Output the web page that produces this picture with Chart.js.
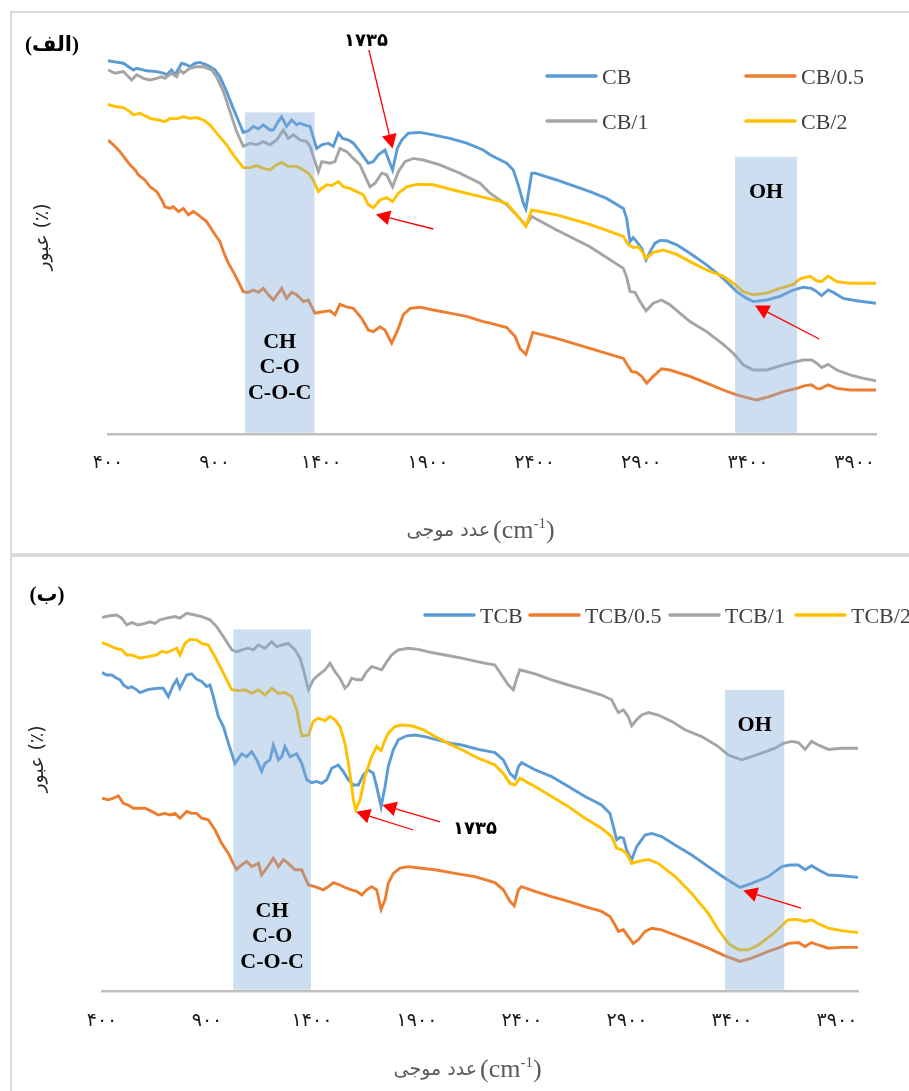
<!DOCTYPE html>
<html><head><meta charset="utf-8">
<script src="https://cdn.jsdelivr.net/npm/chart.js@4.4.1/dist/chart.umd.min.js"></script>
<style>
html,body{margin:0;padding:0;background:#fff;width:909px;height:1091px;overflow:hidden;position:relative}
.fr{position:absolute;background:#d9d9d9}
.wrap{position:absolute;left:0}
canvas{display:block}
</style></head><body>
<div class="fr" style="left:10px;top:11px;width:2px;height:1080px"></div>
<div class="fr" style="left:10px;top:11px;width:899px;height:2px"></div>
<div class="fr" style="left:10px;top:553px;width:899px;height:4px"></div>
<div class="wrap" style="top:0;width:909px;height:552px"><canvas id="c1" width="909" height="552"></canvas></div>
<div class="wrap" style="top:557px;width:909px;height:534px"><canvas id="c2" width="909" height="534"></canvas></div>
<script>
// ---------- axis ticks ----------
const xTickValues = [400, 900, 1400, 1900, 2400, 2900, 3400, 3900];
const xTickLabels = ['۴۰۰', '۹۰۰', '۱۴۰۰', '۱۹۰۰', '۲۴۰۰', '۲۹۰۰', '۳۴۰۰', '۳۹۰۰'];
const seriesNamesA = ['CB', 'CB/0.5', 'CB/1', 'CB/2'];
const seriesNamesB = ['TCB', 'TCB/0.5', 'TCB/1', 'TCB/2'];
const seriesColors = ['#5B9BD5', '#ED7D31', '#A5A5A5', '#FFC000'];

// ---------- panel (الف) ----------
const cbWn = [400,425,472,519,534,581,628,659,675,698,714,745,769,784,808,831,862,878,902,925,956,987,1019,1034,1058,1081,1105,1128,1159,1175,1198,1214,1237,1261,1284,1300,1331,1347,1378,1402,1433,1456,1480,1500,1527,1550,1581,1620,1644,1667,1698,1734,1756,1777,1808,1862,1925,2003,2081,2159,2191,2269,2300,2323,2347,2359,2370,2386,2402,2503,2659,2737,2816,2831,2847,2862,2878,2902,2922,2941,2964,2988,3019,3066,3128,3206,3284,3347,3394,3425,3488,3550,3612,3659,3698,3722,3745,3776,3800,3847,3909,4000];
const cbT = [93.3,93.1,92.7,91.0,91.4,90.8,90.6,90.2,89.8,91.0,89.8,92.7,92.3,91.8,92.7,92.9,92.3,91.8,91.0,89.3,85.6,81.4,77.3,75.4,75.8,76.9,76.3,77.3,76.0,76.0,78.1,79.3,76.9,78.5,77.3,77.7,77.1,76.9,71.4,72.3,72.7,71.9,75.2,73.9,73.5,72.7,70.6,67.7,68.1,69.8,71.0,66.0,71.4,73.5,75.2,75.4,74.8,73.9,72.7,71.0,69.8,67.7,66.0,62.3,57.7,56.3,59.8,65.2,65.2,63.5,60.6,58.9,56.4,53.9,48.1,49.1,48.1,46.4,43.5,45.6,47.7,48.4,48.3,47.3,45.2,42.3,38.9,35.6,33.9,33.1,33.5,34.4,36.0,36.7,36.4,35.6,34.6,36.0,35.4,33.9,33.3,32.7];

const cb05Wn = [400,425,456,480,503,527,542,573,597,628,652,667,691,706,730,753,777,800,823,862,902,925,941,964,987,1011,1034,1058,1081,1105,1128,1152,1175,1214,1237,1261,1284,1316,1339,1370,1409,1441,1464,1487,1519,1550,1589,1620,1644,1675,1698,1730,1761,1784,1816,1862,1925,2003,2081,2159,2191,2269,2308,2331,2359,2378,2391,2503,2659,2816,2839,2855,2878,2902,2925,2956,2995,3034,3128,3206,3284,3347,3409,3441,3503,3566,3628,3667,3698,3722,3738,3776,3816,3878,4000];
const cb05T = [73.5,72.3,70.6,68.9,67.3,66.0,64.8,63.5,61.8,60.6,58.5,56.8,56.4,56.8,55.6,56.4,54.8,55.6,54.8,53.1,49.8,48.1,45.6,42.7,40.6,38.1,35.6,35.4,36.0,35.4,36.4,34.8,33.5,36.4,33.9,35.4,34.8,33.1,33.5,30.2,30.6,30.8,29.8,32.4,31.8,31.4,28.9,26.0,25.6,26.8,26.0,22.7,26.4,29.8,31.4,31.7,31.0,30.2,29.4,28.1,27.7,26.6,24.4,21.4,19.9,23.1,25.4,23.9,21.4,18.9,16.9,15.6,15.4,14.4,12.7,14.4,16.3,16.0,14.4,12.7,11.0,9.8,8.9,8.5,9.4,10.6,11.4,12.1,12.3,11.4,11.3,12.3,11.4,11.0,11.0];

const cb1Wn = [400,433,472,511,534,566,597,628,652,667,698,722,737,753,784,816,847,886,909,941,972,1003,1034,1066,1097,1128,1159,1191,1222,1245,1269,1300,1331,1347,1386,1402,1441,1464,1487,1519,1550,1581,1628,1652,1683,1706,1734,1761,1792,1831,1878,1956,2050,2144,2191,2269,2331,2359,2386,2503,2659,2816,2831,2847,2870,2894,2922,2956,2995,3034,3128,3206,3284,3331,3378,3425,3488,3566,3612,3659,3698,3722,3745,3776,3816,3878,3941,4000];
const cb1T = [91.0,90.2,90.6,88.5,89.8,88.9,88.5,88.9,89.3,88.9,90.2,89.3,91.0,90.2,91.4,91.8,91.8,91.0,89.3,85.6,80.6,75.6,71.9,72.7,72.3,73.1,72.3,73.5,76.0,73.9,74.8,73.5,73.1,71.9,65.6,68.1,67.7,68.1,71.4,70.6,68.9,67.3,61.8,62.7,65.2,64.8,61.8,65.6,68.1,68.9,68.5,67.3,65.2,62.7,60.2,57.3,53.9,52.1,54.4,51.0,46.8,41.4,39.3,35.6,35.4,33.1,30.8,32.7,33.5,32.3,28.1,25.6,22.4,20.2,17.3,16.0,16.0,17.3,17.9,18.5,18.5,17.7,16.6,17.4,16.0,14.8,13.9,13.3];

const cb2Wn = [400,441,472,503,519,550,597,636,667,691,722,753,784,816,847,878,909,956,987,1034,1066,1097,1128,1159,1191,1214,1245,1284,1316,1339,1362,1386,1402,1425,1448,1480,1503,1534,1566,1597,1620,1644,1675,1706,1734,1761,1800,1847,1925,2019,2112,2191,2269,2316,2359,2386,2503,2659,2816,2839,2862,2886,2909,2922,2956,3003,3066,3128,3206,3284,3331,3378,3425,3488,3550,3612,3644,3691,3722,3745,3776,3816,3878,4000];
const cb2T = [82.4,81.8,81.6,80.6,79.8,80.2,78.9,78.5,78.1,78.9,78.8,79.3,78.9,79.1,78.5,77.3,75.2,72.3,69.8,66.6,66.6,67.1,66.4,66.0,67.3,67.9,66.9,66.9,66.0,65.2,63.5,60.6,61.4,62.3,62.1,63.1,61.8,61.4,60.6,59.8,57.3,56.6,58.5,59.1,58.1,60.2,61.8,62.4,62.3,61.0,59.8,58.8,57.7,54.8,51.9,56.0,54.8,52.4,49.4,47.3,46.6,46.8,45.2,43.9,45.4,46.0,44.9,43.1,41.0,39.4,37.7,35.6,34.8,35.2,36.4,37.4,38.8,39.4,38.3,38.1,39.5,38.1,37.7,37.7];

// ---------- panel (ب) ----------
const tcbWn = [400,422,446,470,486,502,525,541,565,581,621,668,692,716,740,756,771,803,827,851,875,898,914,930,954,978,1002,1033,1065,1089,1113,1137,1160,1176,1200,1216,1240,1256,1271,1295,1327,1351,1375,1398,1422,1446,1470,1494,1525,1549,1573,1597,1621,1644,1668,1692,1708,1729,1748,1763,1787,1811,1851,1890,1938,1986,2065,2113,2192,2271,2311,2343,2367,2383,2398,2462,2541,2621,2700,2779,2819,2835,2851,2867,2883,2898,2922,2946,2986,3018,3065,3129,3208,3287,3367,3438,3494,3573,3637,3676,3716,3748,3779,3811,3859,3922,4000];
const tcbT = [79.6,79.0,79.0,78.2,77.8,76.5,75.7,76.1,75.3,74.6,75.4,75.7,75.7,73.6,76.5,77.8,75.7,79.0,79.3,77.9,77.4,76.1,76.5,73.6,68.6,66.1,61.9,56.9,59.3,58.6,59.8,57.8,54.9,56.9,57.8,61.5,57.8,58.6,61.1,58.6,59.3,56.9,52.8,52.1,52.4,51.9,52.8,55.7,56.5,54.9,52.8,51.5,51.5,54.0,55.3,54.4,51.1,46.1,51.1,56.1,60.3,62.8,63.8,64.0,63.6,62.9,61.9,61.5,60.4,59.6,57.8,54.4,53.2,56.1,57.1,55.3,53.6,51.1,48.6,46.5,44.4,41.1,37.8,38.4,38.2,35.3,32.8,36.1,39.0,39.4,38.6,36.5,34.0,31.1,28.2,25.9,26.9,28.6,31.1,31.5,31.5,30.3,31.3,30.3,29.0,28.8,28.4];

const tcb05Wn = [400,430,454,478,502,525,549,581,605,637,668,700,724,748,771,803,827,851,875,906,938,970,1002,1025,1041,1065,1089,1113,1145,1160,1184,1216,1240,1264,1287,1319,1351,1383,1414,1454,1478,1502,1533,1565,1589,1613,1637,1660,1684,1708,1729,1748,1763,1787,1819,1859,1922,1986,2081,2176,2271,2311,2343,2363,2383,2398,2462,2541,2621,2700,2779,2819,2843,2859,2883,2906,2930,2954,2986,3018,3065,3129,3208,3287,3367,3438,3494,3573,3637,3668,3716,3748,3779,3811,3859,3922,4000];
const tcb05T = [48.2,47.8,48.2,48.8,46.9,46.5,45.7,45.7,45.7,44.9,44.0,44.4,44.0,44.4,43.2,44.9,44.4,44.4,43.2,42.8,40.3,36.9,34.4,31.9,30.4,31.5,32.4,31.1,31.9,29.0,30.7,33.2,31.1,32.8,31.9,30.3,30.3,26.5,26.1,25.3,26.1,27.1,26.5,25.7,25.3,24.9,24.0,25.3,26.1,25.3,20.4,22.8,26.9,29.4,30.7,31.1,30.7,30.3,29.4,28.6,27.1,25.3,22.4,21.3,25.3,26.1,24.9,23.6,22.4,21.1,19.9,18.6,16.5,14.9,15.3,13.6,11.9,12.8,14.9,15.7,15.3,14.0,12.4,10.7,8.8,7.4,8.2,9.9,11.1,11.9,12.1,11.1,12.1,11.5,10.7,10.9,10.9];

const tcb1Wn = [400,438,470,494,518,541,573,605,629,652,676,708,748,771,803,843,875,914,946,978,1018,1041,1065,1097,1121,1145,1176,1208,1232,1256,1287,1319,1343,1359,1383,1406,1430,1462,1486,1510,1533,1557,1573,1589,1613,1637,1660,1684,1708,1732,1756,1779,1811,1859,1906,1954,2033,2113,2192,2271,2303,2335,2359,2375,2390,2462,2541,2621,2700,2779,2827,2843,2859,2883,2906,2922,2946,2970,3002,3049,3113,3176,3256,3335,3383,3446,3494,3557,3605,3644,3684,3716,3748,3779,3811,3859,3922,4000];
const tcb1T = [93.4,93.8,94.0,93.2,91.5,92.1,91.5,91.9,92.3,91.9,92.8,93.2,93.6,93.2,94.4,94.0,93.6,92.8,91.1,88.6,85.3,84.8,85.3,85.7,85.3,86.5,85.7,87.3,86.1,86.5,86.9,85.3,83.2,80.3,75.3,77.8,79.0,80.3,81.9,79.8,78.2,75.7,76.5,78.2,77.8,77.8,79.8,81.1,80.7,80.3,82.3,84.0,85.3,85.7,85.4,84.8,84.0,83.2,82.3,81.5,79.0,76.5,75.3,78.2,80.3,79.3,77.8,76.5,75.3,74.0,72.8,71.1,69.6,70.3,68.6,66.3,67.8,69.0,69.6,69.0,67.4,65.3,63.6,61.1,59.0,57.8,58.6,59.8,60.7,61.9,62.4,62.1,60.4,62.4,61.5,60.4,60.7,60.7];

const tcb2Wn = [400,430,462,494,518,541,581,621,660,684,708,740,756,771,795,819,851,875,906,938,970,994,1018,1049,1081,1113,1145,1176,1208,1240,1271,1303,1327,1351,1383,1406,1430,1462,1486,1510,1533,1557,1576,1597,1608,1629,1652,1684,1708,1729,1748,1763,1795,1827,1875,1930,1986,2049,2113,2192,2271,2311,2343,2367,2390,2462,2541,2621,2700,2779,2827,2851,2875,2898,2922,2954,3002,3049,3129,3208,3287,3335,3383,3430,3478,3525,3589,3637,3668,3708,3748,3779,3811,3859,3922,4000];
const tcb2T = [87.1,86.5,85.7,85.3,84.0,84.0,83.2,83.6,84.0,84.9,84.6,85.3,85.7,84.0,86.9,87.9,87.8,86.9,86.5,83.6,80.3,77.8,75.3,75.1,75.3,74.4,75.3,74.0,75.7,74.4,74.6,73.6,70.3,63.8,64.0,67.4,68.2,67.6,68.6,67.8,66.1,61.9,56.1,47.8,45.3,47.8,53.6,58.6,61.1,60.1,62.8,64.4,66.1,66.5,66.3,65.3,63.6,61.9,60.3,58.2,56.5,54.4,51.9,51.5,53.2,51.1,48.6,46.1,43.2,40.7,38.6,35.7,35.3,34.4,31.9,32.4,32.9,31.9,28.6,24.4,19.4,15.3,11.9,10.3,10.3,11.5,14.0,16.3,17.8,17.9,17.4,17.8,16.8,15.7,15.1,14.6];

// ---------- highlighted bands (wavenumber ranges) ----------
const bandFromA = [1042, 3339], bandToA = [1368, 3630], bandTopA = [80.4, 69.3];
const bandFromB = [1025, 3367], bandToB = [1395, 3649], bandTopB = [90.4, 75.25];
const bandTextA = [['CH','C-O','C-O-C'], ['OH']], bandTextYA = [23.0, 60.3];
const bandTextB = [['CH','C-O','C-O-C'], ['OH']], bandTextYB = [20.0, 66.3];
// arrows: [fromWn, fromT, toWn, toT]
const arrowsA = [[1623,96,1734,71.4],[1925,51.25,1656,54.9],[3734,23.75,3433,32.1]];
const arrowsB = [[2010,42.3,1735,46.5],[1882,40.25,1610,44.8],[3729,20.7,3454,25.1]];
const peakLabel = '۱۷۳۵';
const peakLabelPosA = [1609, 98.2], peakLabelPosB = [2176, 40.4];

function pts(xs, ys) { const n = Math.min(xs.length, ys.length), o = []; for (let i = 0; i < n; i++) o.push({x: xs[i], y: ys[i]}); return o; }

function drawArrow(ctx, x0, y0, x1, y1) {
  const a = Math.atan2(y1 - y0, x1 - x0), L = 14, W = 7.5;
  const bx = x1 - L * Math.cos(a), by = y1 - L * Math.sin(a);
  ctx.strokeStyle = '#ff0000'; ctx.lineWidth = 1.3;
  ctx.beginPath(); ctx.moveTo(x0, y0); ctx.lineTo(bx, by); ctx.stroke();
  ctx.fillStyle = '#ff0000';
  ctx.beginPath(); ctx.moveTo(x1, y1);
  ctx.lineTo(bx + W * Math.sin(a), by - W * Math.cos(a));
  ctx.lineTo(bx - W * Math.sin(a), by + W * Math.cos(a));
  ctx.closePath(); ctx.fill();
}

const decor = {
  id: 'decor',
  afterDatasetsDraw(chart, args, o) {
    const ctx = chart.ctx, xs = chart.scales.x, ys = chart.scales.y;
    ctx.save();
    o.bandFrom.forEach((f, i) => {
      const x0 = xs.getPixelForValue(f), x1 = xs.getPixelForValue(o.bandTo[i]);
      const y0 = ys.getPixelForValue(o.bandTop[i]), y1 = ys.getPixelForValue(0) - 1.2;
      ctx.fillStyle = 'rgba(130,172,217,0.4)';
      ctx.fillRect(x0, y0, x1 - x0, y1 - y0);
      ctx.fillStyle = '#000'; ctx.font = 'bold 22px "Liberation Serif"';
      ctx.textAlign = 'center'; ctx.textBaseline = 'middle';
      const ty = ys.getPixelForValue(o.bandTextY[i]);
      o.bandText[i].forEach((t, k) => ctx.fillText(t, (x0 + x1) / 2, ty + k * 25.5));
    });
    o.arrows.forEach(a => drawArrow(ctx, xs.getPixelForValue(a[0]), ys.getPixelForValue(a[1]), xs.getPixelForValue(a[2]), ys.getPixelForValue(a[3])));
    ctx.fillStyle = '#000'; ctx.font = 'bold 18px "DejaVu Sans"'; ctx.textAlign = 'center'; ctx.textBaseline = 'middle';
    ctx.fillText(peakLabel, xs.getPixelForValue(o.peakPos[0]), ys.getPixelForValue(o.peakPos[1]));
    ctx.restore();
  },
  afterDraw(chart, args, o) {
    const ctx = chart.ctx, ca = chart.chartArea;
    ctx.save();
    // legend
    chart.data.datasets.forEach((ds, i) => {
      const p = o.legend[i];
      ctx.strokeStyle = ds.borderColor; ctx.lineWidth = 3.5; ctx.lineCap = 'round';
      ctx.beginPath(); ctx.moveTo(p[0], p[1]); ctx.lineTo(p[0] + 49, p[1]); ctx.stroke();
      ctx.fillStyle = '#404040'; ctx.font = '22px "Liberation Serif"'; ctx.textAlign = 'left'; ctx.textBaseline = 'alphabetic';
      ctx.fillText(ds.label, p[0] + 55, p[1] + 7.5);
    });
    // panel title
    ctx.fillStyle = '#000'; ctx.font = 'bold 21px "Liberation Serif", "DejaVu Sans"'; ctx.textAlign = 'center'; ctx.textBaseline = 'middle';
    ctx.fillText(o.title, o.titlePos[0], o.titlePos[1]);
    // x axis title
    const cx = (ca.left + ca.right) / 2 + o.xTitleDx, ty = ca.bottom + o.xTitleDy;
    ctx.fillStyle = '#595959'; ctx.textBaseline = 'alphabetic';
    ctx.font = '19px "DejaVu Sans"'; ctx.textAlign = 'right';
    ctx.fillText('عدد موجی', cx - 3, ty + 7);
    ctx.textAlign = 'left'; ctx.font = '26px "Liberation Serif"';
    let x = cx; ctx.fillText('(cm', x, ty + 9); x += ctx.measureText('(cm').width;
    ctx.font = '15px "Liberation Serif"'; ctx.fillText('-1', x, ty - 1); x += ctx.measureText('-1').width;
    ctx.font = '26px "Liberation Serif"'; ctx.fillText(')', x, ty + 9);
    // y axis title
    ctx.translate(o.yTitlePos[0], o.yTitlePos[1]); ctx.rotate(-Math.PI / 2);
    ctx.fillStyle = '#262626'; ctx.font = '19px "DejaVu Sans"'; ctx.textAlign = 'center'; ctx.textBaseline = 'middle';
    ctx.direction = 'ltr';
    ctx.fillText('عبور (٪)', 0, 0);
    ctx.restore();
  }
};

function makeChart(id, names, series, pad, tickPad, decorOpts) {
  return new Chart(document.getElementById(id), {
    type: 'line',
    data: {
      datasets: series.map((s, i) => ({
        label: names[i], data: pts(s[0], s[1]), borderColor: seriesColors[i],
        borderWidth: 2.9, pointRadius: 0, fill: false, tension: 0, order: 4 - i
      }))
    },
    options: {
      responsive: false, animation: false, events: [],
      layout: { padding: pad },
      plugins: { legend: { display: false }, tooltip: { enabled: false }, title: { display: false }, decor: decorOpts },
      scales: {
        x: {
          type: 'linear', min: 400, max: 4000,
          afterBuildTicks: ax => { ax.ticks = xTickValues.map(v => ({ value: v })); },
          afterFit: ax => { ax.height = 40; },
          grid: { display: false, drawTicks: false },
          border: { display: true, color: '#bfbfbf', width: 2.5 },
          ticks: { padding: tickPad, maxRotation: 0, autoSkip: false, color: '#1a1a1a',
                   font: { family: 'DejaVu Sans', size: 19 },
                   callback: (v, i) => xTickLabels[i] }
        },
        y: { min: 0, max: 100, display: false }
      }
    },
    plugins: [decor]
  });
}

makeChart('c1', seriesNamesA,
  [[cbWn, cbT], [cb05Wn, cb05T], [cb1Wn, cb1T], [cb2Wn, cb2T]],
  { left: 108, right: 33, top: 34, bottom: 78 }, 18,
  { bandFrom: bandFromA, bandTo: bandToA, bandTop: bandTopA, bandText: bandTextA, bandTextY: bandTextYA,
    arrows: arrowsA, peakPos: peakLabelPosA,
    legend: [[547, 76], [746, 76], [547, 121], [746, 121]],
    title: '(الف)', titlePos: [52, 46], xTitleDx: 1, xTitleDy: 95, yTitlePos: [43, 237] });

makeChart('c2', seriesNamesB,
  [[tcbWn, tcbT], [tcb05Wn, tcb05T], [tcb1Wn, tcb1T], [tcb2Wn, tcb2T]],
  { left: 102, right: 51, top: 34, bottom: 60 }, 19,
  { bandFrom: bandFromB, bandTo: bandToB, bandTop: bandTopB, bandText: bandTextB, bandTextY: bandTextYB,
    arrows: arrowsB, peakPos: peakLabelPosB,
    legend: [[425, 58], [530, 58], [670, 58], [796, 58]],
    title: '(ب)', titlePos: [47, 39], xTitleDx: 0, xTitleDy: 77, yTitlePos: [38, 202] });
</script>
</body></html>
